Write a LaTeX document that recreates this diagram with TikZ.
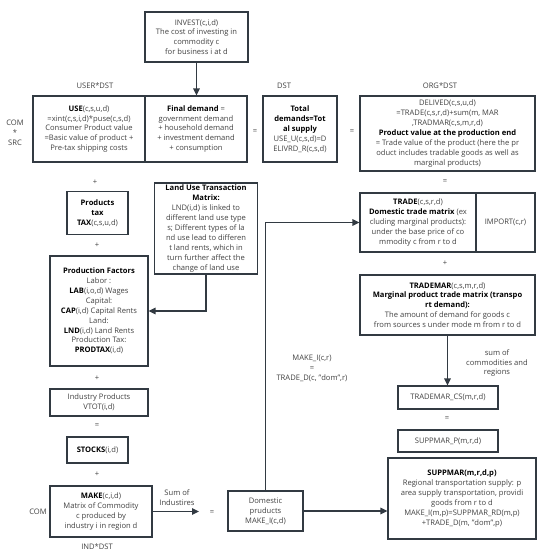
\documentclass[tikz,border=0pt]{standalone}
\usepackage{fontspec}
\setmainfont{Open Sans}
\usetikzlibrary{arrows.meta}
\definecolor{bordc}{RGB}{50,58,66}
\definecolor{txtc}{RGB}{66,66,66}
\newcommand\dfs{\fontsize{7.6}{9.9}\selectfont}
\newcommand\bt[1]{\textbf{\color{black}#1}}
\begin{document}
\begin{tikzpicture}[x=1pt,y=-1pt,
  box/.style={draw=bordc, line width=1.2pt, align=center, inner sep=1pt, text=txtc, font=\dfs, fill=white},
  lbl/.style={text=txtc, font=\dfs, align=center, inner sep=0pt},
  arr/.style={draw=bordc, line width=1.4pt, -{Triangle[length=7pt,width=6.5pt]}},
  conn/.style={draw=bordc, line width=1.4pt}
]
\useasboundingbox[fill=white] (0,0) rectangle (550,558);

% boxes
\node[box, minimum width=103pt, minimum height=50pt] (invest) at (196.5,37)
  {INVEST(c,i,d)\\The cost of investing in\\commodity c\\for business i at d};
\node[box, minimum width=112pt, minimum height=66pt] (use) at (89,129)
  {\bt{USE}(c,s,u,d)\\=xint(c,s,i,d)*puse(c,s,d)\\Consumer Product value\\=Basic value of product +\\Pre-tax shipping costs};
\node[box, minimum width=102pt, minimum height=66pt] (final) at (196,129)
  {\bt{Final demand} =\\government demand\\+ household demand\\+ investment demand\\+ consumption};
\node[box, minimum width=74pt, minimum height=66pt] (total) at (300,129)
  {\bt{Total}\\\bt{demands=Tot}\\\bt{al supply}\\USE\_U(c,s,d)=D\\ELIVRD\_R(c,s,d)};
\node[box, minimum width=175pt, minimum height=75pt] (delived) at (447.5,133.5)
  {DELIVED(c,s,u,d)\\=TRADE(c,s,r,d)+sum(m, MAR\\,TRADMAR(c,s,m,r,d)\\\bt{Product value at the production end}\\= Trade value of the product (here the pr\\oduct includes tradable goods as well as\\marginal products)};
\node[box, minimum width=61pt, minimum height=43pt] (ptax) at (97.5,213)
  {\bt{Products}\\\bt{tax}\\\bt{TAX}(c,s,u,d)};
\node[box, minimum width=103pt, minimum height=91pt] (land) at (206,228.5)
  {\bt{Land Use Transaction}\\\bt{Matrix:}\\LND(i,d) is linked to\\different land use type\\s; Different types of la\\nd use lead to differen\\t land rents, which in\\turn further affect the\\change of land use};
\node[box, minimum width=98pt, minimum height=110pt] (prod) at (99,311)
  {\bt{Production Factors}\\Labor :\\\bt{LAB}(i,o,d) Wages\\Capital:\\\bt{CAP}(i,d) Capital Rents\\Land:\\\bt{LND}(i,d) Land Rents\\Production Tax:\\\bt{PRODTAX}(i,d)};
\node[box, minimum width=98pt, minimum height=27pt] (indp) at (99,402.5)
  {Industry Products\\VTOT(i,d)};
\node[box, minimum width=61pt, minimum height=26pt] (stocks) at (97.5,450)
  {\bt{STOCKS}(i,d)};
\node[box, minimum width=102pt, minimum height=51pt] (make) at (101,511.5)
  {\bt{MAKE}(c,i,d)\\Matrix of Commodity\\c produced by\\industry i in region d};
\node[box, minimum width=75pt, minimum height=40pt] (domp) at (265.5,511)
  {Domestic\\pruducts\\MAKE\_I(c,d)};
\node[box, minimum width=116pt, minimum height=59pt] (trade) at (418,222.5)
  {\bt{TRADE}(c,s,r,d)\\\bt{Domestic trade matrix} (ex\\cluding marginal products):\\under the base price of co\\mmodity c from r to d};
\node[box, minimum width=59pt, minimum height=59pt] (import) at (505.5,222.5)
  {IMPORT(c,r)};
\node[box, minimum width=175pt, minimum height=60pt] (trademar) at (447.5,305)
  {\bt{TRADEMAR}(c,s,m,r,d)\\\bt{Marginal product trade matrix (transpo}\\\bt{rt demand):}\\The amount of demand for goods c\\from sources s under mode m from r to d};
\node[box, minimum width=100pt, minimum height=23pt] (tcs) at (448,397.5)
  {TRADEMAR\_CS(m,r,d)};
\node[box, minimum width=100pt, minimum height=22pt] (spp) at (448,441)
  {SUPPMAR\_P(m,r,d)};
\node[box, minimum width=148pt, minimum height=81pt] (supp) at (462,498.5)
  {\bt{SUPPMAR(m,r,d,p)}\\Regional transportation supply: p\\area supply transportation, providi\\goods from r to d\\MAKE\_I(m,p)=SUPPMAR\_RD(m,p)\\+TRADE\_D(m, "dom",p)};

% labels
\node[lbl] (l1) at (95,86) {USER*DST};
\node[lbl] (l2) at (284,86) {DST};
\node[lbl] (l3) at (440,86) {ORG*DST};
\node[lbl] (l4) at (15,133) {COM\\*\\SRC};
\node[lbl] (e1) at (255,132) {=};
\node[lbl] (e2) at (352,132) {=};
\node[lbl] (e3) at (445,182) {=};
\node[lbl] (p1) at (95,182) {+};
\node[lbl] (p2) at (97,245) {+};
\node[lbl] (p3) at (97,378) {+};
\node[lbl] (e4) at (97,426) {=};
\node[lbl] (p4) at (97,474) {+};
\node[lbl] (p5) at (445,263) {+};
\node[lbl] (e5) at (447,419) {=};
\node[lbl] (e6) at (212,513) {=};
\node[lbl] (l5) at (38,512) {COM};
\node[lbl] (l6) at (97,547) {IND*DST};
\node[lbl] (l7) at (177,498) {Sum of\\Industires};
\node[lbl] (l8) at (312,368) {MAKE\_I(c,r)\\=\\TRADE\_D(c, "dom",r)};
\node[lbl] (l9) at (497,363) {sum of\\commodities and\\regions};

% connectors
\coordinate (mk) at (199,511.5);
\draw[arr] (invest.south) -- (invest.south |- final.north);
\draw[arr] (land.south) |- (prod.east);
\draw[arr] (domp.north) |- (trade.west);
\draw[arr] (make.east |- mk) -- (mk);
\draw[arr] (domp.east) -- (domp.east -| supp.west);
\draw[arr] (trademar.south) -- (trademar.south |- tcs.north);
\end{tikzpicture}
\end{document}
